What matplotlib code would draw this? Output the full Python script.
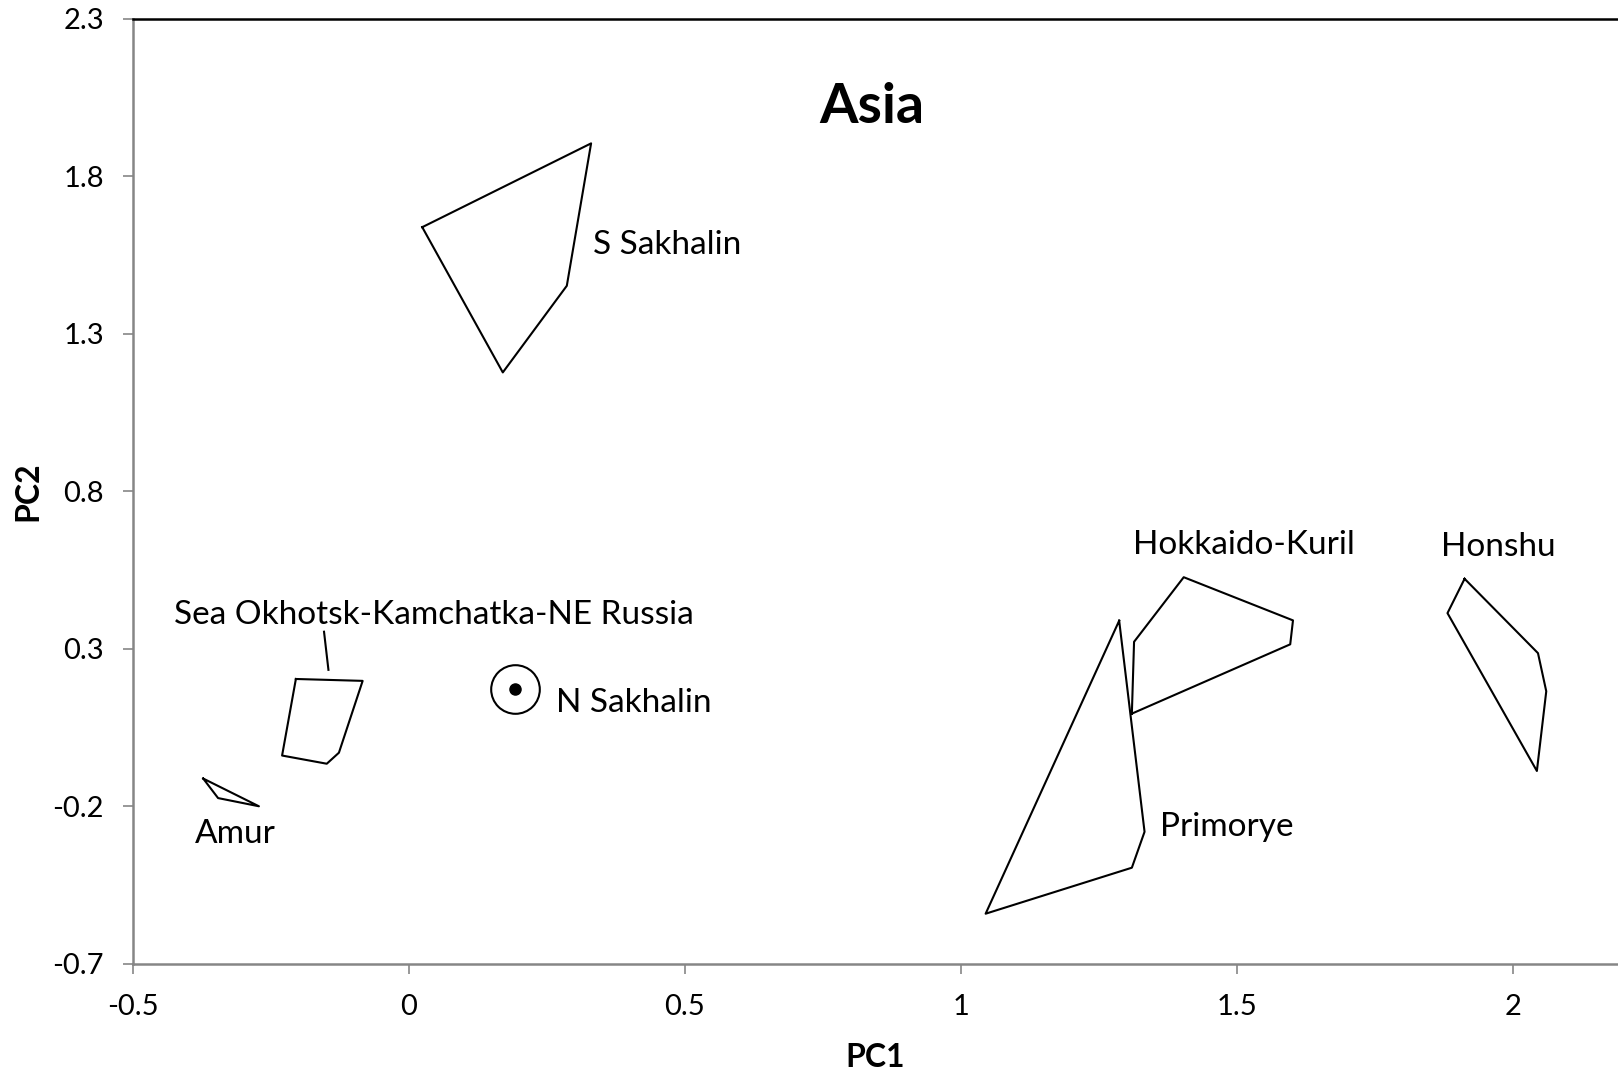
#Asia PCA hulls, styled like the excel original

import numpy as np
import matplotlib.pyplot as plt

#_________INPUT data_______
s_sakhalin_x = [0.024, 0.330, 0.286, 0.170]
s_sakhalin_y = [1.638, 1.904, 1.452, 1.177]

okhotsk_x = [-0.205, -0.084, -0.127, -0.149, -0.230]
okhotsk_y = [0.204, 0.198, -0.030, -0.065, -0.039]
okhotsk_leader_x = [-0.154, -0.146]
okhotsk_leader_y = [0.354, 0.233]

amur_x = [-0.373, -0.346, -0.272]
amur_y = [-0.112, -0.174, -0.200]

n_sakhalin_x = [0.193]
n_sakhalin_y = [0.171]

primorye_x = [1.287, 1.333, 1.310, 1.045]
primorye_y = [0.389, -0.281, -0.395, -0.541]

hokkaido_x = [1.310, 1.314, 1.404, 1.602, 1.597]
hokkaido_y = [0.094, 0.322, 0.527, 0.390, 0.314]

honshu_x = [1.913, 2.046, 2.061, 2.044, 1.882]
honshu_y = [0.522, 0.286, 0.165, -0.088, 0.413]

# label text and anchor (left edge, vertical centre)
labels = ["S Sakhalin", "Sea Okhotsk-Kamchatka-NE Russia", "N Sakhalin", "Amur",
          "Hokkaido-Kuril", "Honshu", "Primorye"]
label_x = [0.334, -0.425, 0.267, -0.388, 1.312, 1.871, 1.361]
label_y = [1.583, 0.407, 0.129, -0.288, 0.628, 0.622, -0.265]

xticks = [-0.5, 0, 0.5, 1, 1.5, 2]
yticks = [-0.7, -0.2, 0.3, 0.8, 1.3, 1.8, 2.3]

#_________Figure Style_______________________
plt.rcParams["font.family"] = ["Lato", "DejaVu Sans"]
plt.rcParams["font.size"] = 20
plt.rcParams["figure.figsize"] = (16.18, 10.73)
plt.rcParams["figure.dpi"] = 100

grey = "#868686"

fig = plt.figure()
ax = fig.add_axes([133.1/1618, 1-963.8/1073, 1-133.1/1618, (963.8-18.6)/1073])

def closed(xs, ys):
    return list(xs) + [xs[0]], list(ys) + [ys[0]]

for xs, ys in [(s_sakhalin_x, s_sakhalin_y), (okhotsk_x, okhotsk_y), (amur_x, amur_y),
               (primorye_x, primorye_y), (hokkaido_x, hokkaido_y), (honshu_x, honshu_y)]:
    cx, cy = closed(xs, ys)
    ax.plot(cx, cy, color="black", lw=1.5)

ax.plot(okhotsk_leader_x, okhotsk_leader_y, color="black", lw=1.5)

#N Sakhalin: single point in a ring
ax.plot(n_sakhalin_x, n_sakhalin_y, "o", ms=35, mfc="none", mec="black", mew=1.5)
ax.plot(n_sakhalin_x, n_sakhalin_y, "o", ms=8, color="black")

for t, lx, ly in zip(labels, label_x, label_y):
    ax.text(lx, ly, t, ha="left", va="center", fontsize=24)

ax.text(0.839, 2.021, "Asia", ha="center", va="center", fontsize=40, fontweight="bold")

ax.set_xlim(-0.5, -0.5 + (1618-133.1)/551.8)
ax.set_ylim(-0.7, 2.3)
ax.set_xticks(xticks)
ax.set_xticklabels(["-0.5", "0", "0.5", "1", "1.5", "2"])
ax.set_yticks(yticks)
ax.set_yticklabels(["-0.7", "-0.2", "0.3", "0.8", "1.3", "1.8", "2.3"])
ax.tick_params(direction="out", length=7, width=1.2, color=grey, labelsize=21)
ax.tick_params(axis="y", pad=14)
ax.tick_params(axis="x", pad=15)

ax.spines["right"].set_visible(False)
ax.spines["top"].set_color("black")
ax.spines["top"].set_linewidth(1.8)
for s in ["left", "bottom"]:
    ax.spines[s].set_color(grey)
    ax.spines[s].set_linewidth(1.8)

ax.set_xlabel("PC1", fontweight="bold", fontsize=23, labelpad=16)
ax.set_ylabel("PC2", fontweight="bold", fontsize=23, labelpad=7)

fig.savefig("out.png")
